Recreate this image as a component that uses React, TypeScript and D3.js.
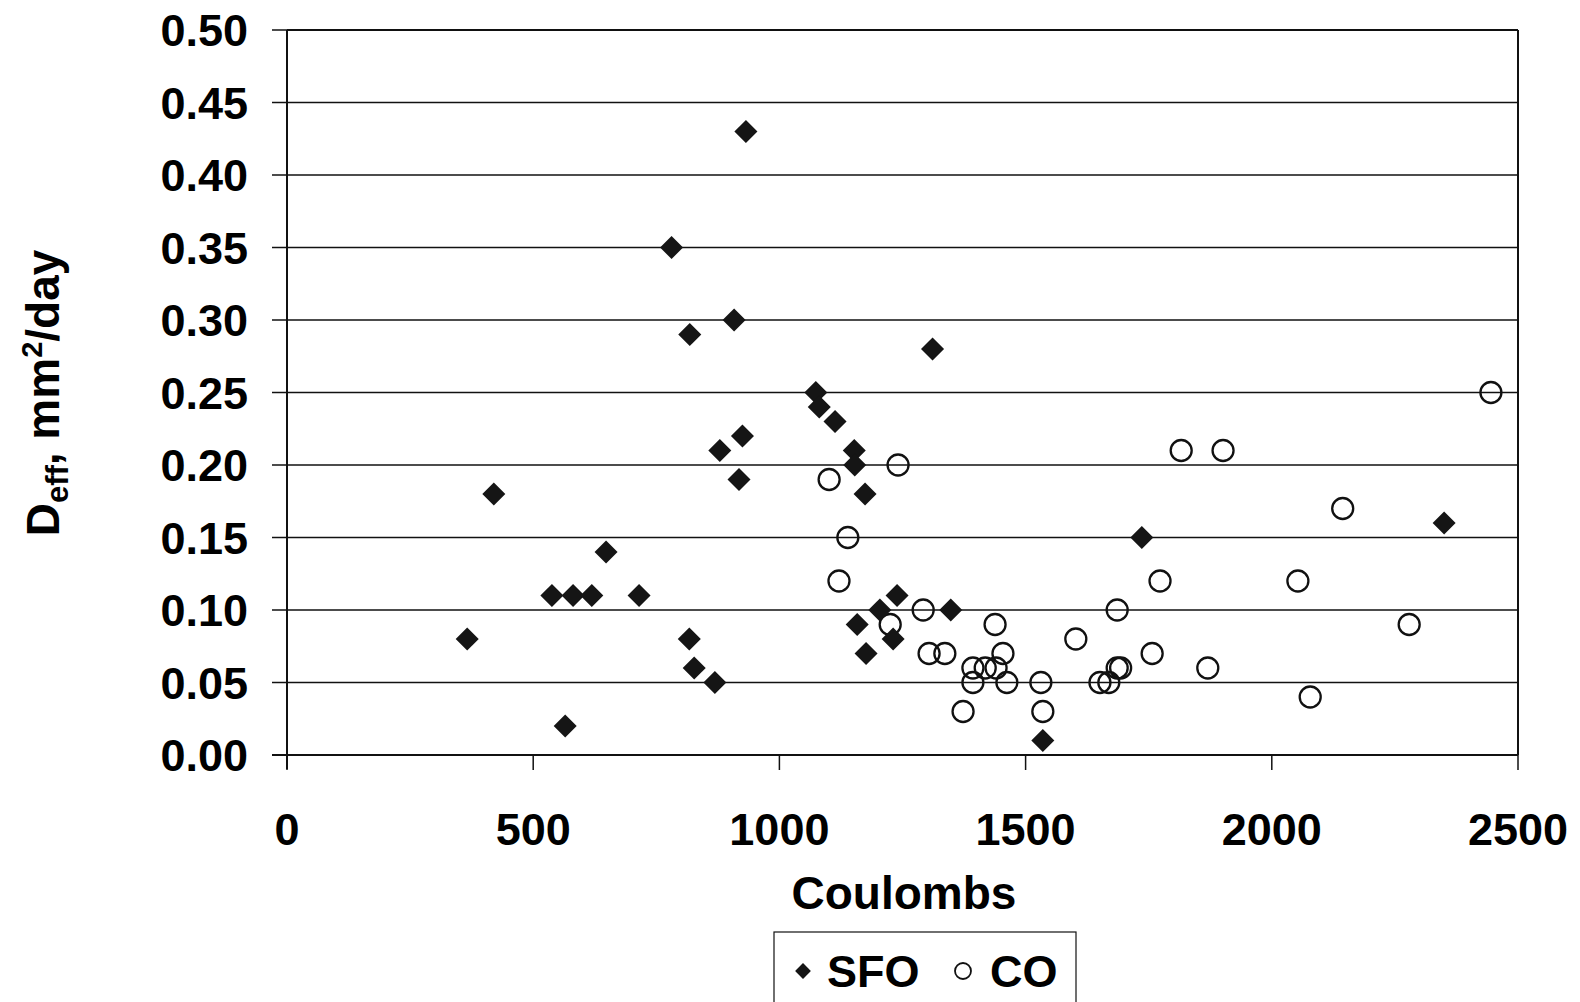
import React from "react";
import { scaleLinear, symbol, symbolSquare } from "d3";

const sfoX = [366, 420, 538, 581, 619, 648, 715, 565, 781, 818, 817, 827, 869, 879, 908, 925, 918, 932, 1074, 1081, 1113, 1152, 1153, 1174, 1158, 1176, 1204, 1231, 1239, 1311, 1348, 1535, 1736, 2350];
const sfoY = [0.08, 0.18, 0.11, 0.11, 0.11, 0.14, 0.11, 0.02, 0.35, 0.29, 0.08, 0.06, 0.05, 0.21, 0.30, 0.22, 0.19, 0.43, 0.25, 0.24, 0.23, 0.21, 0.20, 0.18, 0.09, 0.07, 0.10, 0.08, 0.11, 0.28, 0.10, 0.01, 0.15, 0.16];

const coX = [1101, 1241, 1139, 1121, 1225, 1292, 1304, 1336, 1373, 1393, 1393, 1418, 1438, 1440, 1454, 1462, 1531, 1535, 1602, 1651, 1669, 1686, 1693, 1686, 1757, 1773, 1816, 1870, 1901, 2053, 2078, 2144, 2279, 2445];
const coY = [0.19, 0.20, 0.15, 0.12, 0.09, 0.10, 0.07, 0.07, 0.03, 0.06, 0.05, 0.06, 0.09, 0.06, 0.07, 0.05, 0.05, 0.03, 0.08, 0.05, 0.05, 0.06, 0.06, 0.10, 0.07, 0.12, 0.21, 0.06, 0.21, 0.12, 0.04, 0.17, 0.09, 0.25];

const xTicks = [0, 500, 1000, 1500, 2000, 2500];
const yTicks = [0, 0.05, 0.1, 0.15, 0.2, 0.25, 0.3, 0.35, 0.4, 0.45, 0.5];

const FONT = "'Liberation Sans', Arial, sans-serif";

const App = () => {
  const x = scaleLinear().domain([0, 2500]).range([287, 1518]);
  const y = scaleLinear().domain([0, 0.5]).range([755, 30]);

  // squares turned 45 degrees, like the Excel diamond marker
  const diamond = symbol().type(symbolSquare).size(265)();
  const smallDiamond = symbol().type(symbolSquare).size(125)();

  return (
    <svg
      width={1580}
      height={1002}
      style={{ position: "absolute", left: 0, top: 0, background: "#fff" }}
      fontFamily={FONT}
      fontWeight="bold"
    >
      {/* gridlines */}
      {yTicks.map((t) => (
        <g key={t}>
          <line x1={x(0) - 15} x2={x(2500)} y1={y(t)} y2={y(t)} stroke="#111" strokeWidth={t === 0 ? 2 : 1.4} />
          <text x={248} y={y(t)} dy="0.36em" textAnchor="end" fontSize={45}>
            {t.toFixed(2)}
          </text>
        </g>
      ))}
      {/* frame */}
      <line x1={x(0)} x2={x(0)} y1={y(0.5)} y2={y(0) + 14} stroke="#111" strokeWidth={2} />
      <line x1={x(2500)} x2={x(2500)} y1={y(0.5)} y2={y(0)} stroke="#111" strokeWidth={2} />
      <line x1={x(0)} x2={x(2500)} y1={y(0.5)} y2={y(0.5)} stroke="#111" strokeWidth={2} />
      {xTicks.map((t) => (
        <g key={t}>
          <line x1={x(t)} x2={x(t)} y1={y(0)} y2={y(0) + 15} stroke="#111" strokeWidth={1.5} />
          <text x={x(t)} y={845} textAnchor="middle" fontSize={45}>
            {t}
          </text>
        </g>
      ))}

      {/* points */}
      {coX.map((v, i) => (
        <circle key={"c" + i} cx={x(v)} cy={y(coY[i])} r={10.5} fill="none" stroke="#111" strokeWidth={2.3} />
      ))}
      {sfoX.map((v, i) => (
        <path key={"s" + i} d={diamond} transform={`translate(${x(v)},${y(sfoY[i])}) rotate(45)`} fill="#151515" />
      ))}

      {/* axis titles */}
      <text x={904} y={909} textAnchor="middle" fontSize={46}>
        Coulombs
      </text>
      <text transform="translate(59,393) rotate(-90)" textAnchor="middle" fontSize={46}>
        D<tspan fontSize={31} dy={9}>eff</tspan>
        <tspan dy={-9}>, mm</tspan>
        <tspan fontSize={29} dy={-17}>2</tspan>
        <tspan dy={17}>/day</tspan>
      </text>

      {/* legend */}
      <rect x={774} y={932} width={302} height={76} fill="#fff" stroke="#111" strokeWidth={1.2} />
      <path d={smallDiamond} transform="translate(803,971) rotate(45)" fill="#151515" />
      <text x={827} y={987} fontSize={45}>SFO</text>
      <circle cx={963} cy={971} r={8} fill="none" stroke="#111" strokeWidth={1.8} />
      <text x={990} y={987} fontSize={45}>CO</text>
    </svg>
  );
};

export default App;
